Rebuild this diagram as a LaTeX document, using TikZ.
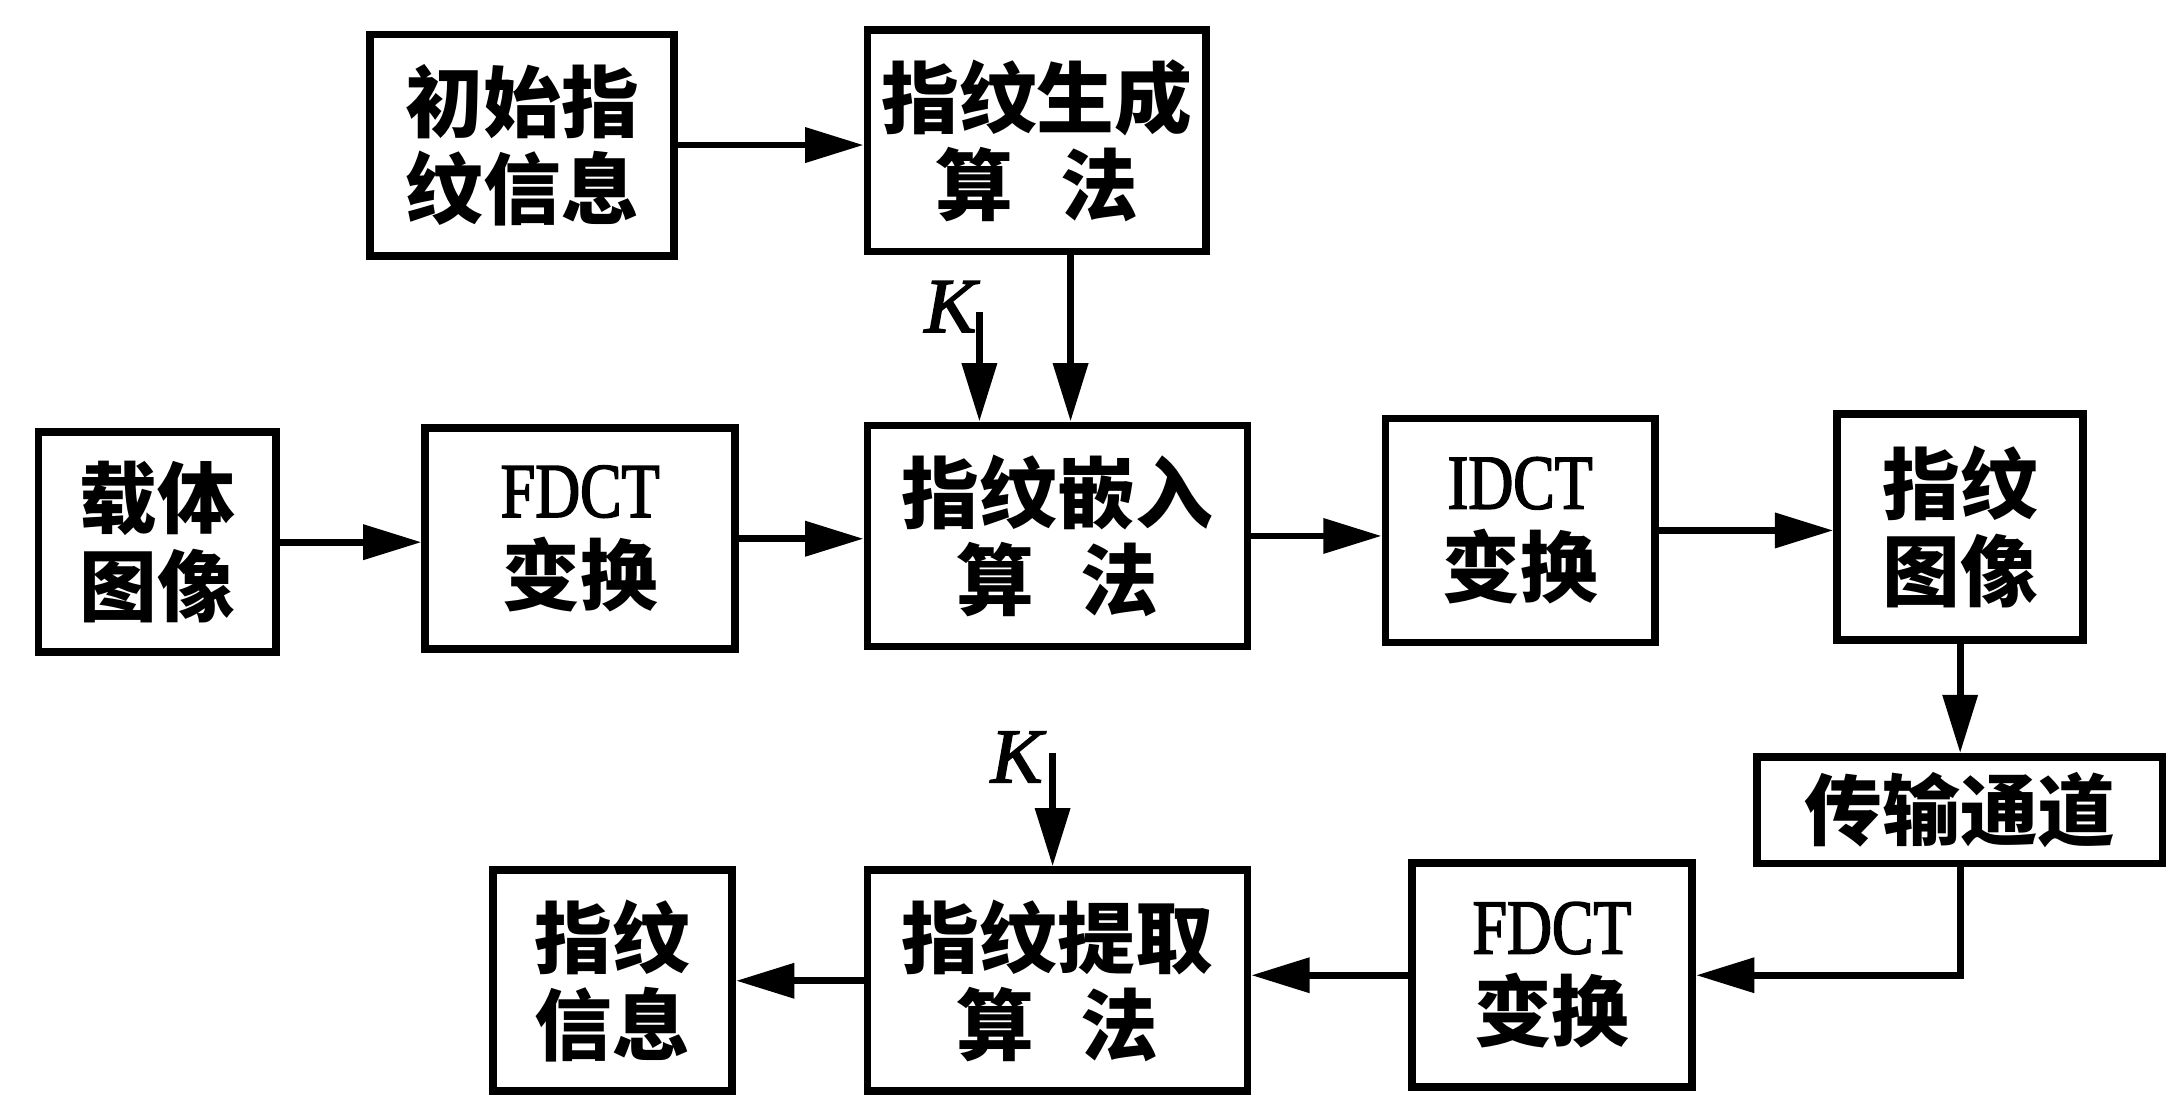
\documentclass[tikz,border=0pt]{standalone}
\usepackage{fontspec}
\usepackage{tikz}
\usetikzlibrary{arrows.meta,positioning}
\newfontfamily\cjk{Noto Sans CJK SC}
\newfontfamily\fdctfont{Liberation Serif}[FakeStretch=0.8, FakeBold=2]
\newfontfamily\keyfont{Liberation Serif}[FakeBold=2]

\tikzset{
  blk/.style={draw, line width=1.6pt, inner sep=0pt, align=center,
    font=\cjk\bfseries\fontsize{16}{18}\selectfont},
  arr/.style={line width=1.4pt, -{Triangle[length=12pt,width=7pt]}},
  klbl/.style={font=\keyfont\itshape\fontsize{16}{18}\selectfont, inner sep=0pt}
}

\begin{document}
\begin{tikzpicture}[x=0.01cm,y=-0.01cm]
\useasboundingbox (0,0) rectangle (1568,794);
% embedding
\node[blk, minimum width=2.20cm, minimum height=1.60cm] (init) at (378,105) {初始指\\纹信息};
\node[blk, minimum width=2.45cm, minimum height=1.60cm] (gen) at (750.5,102) {指纹生成\\算\hspace{0.6em}法};
\node[blk, minimum width=1.72cm, minimum height=1.59cm] (carrier) at (114,392.5) {载体\\图像};
\node[blk, minimum width=2.24cm, minimum height=1.60cm] (fdcta) at (420,390) {{\fdctfont\mdseries FDCT}\\变换};
\node[blk, minimum width=2.75cm, minimum height=1.60cm] (embed) at (765.5,388) {指纹嵌入\\算\hspace{0.6em}法};
\node[blk, minimum width=1.95cm, minimum height=1.62cm] (idct) at (1100.5,384) {{\fdctfont\mdseries IDCT}\\变换};
\node[blk, minimum width=1.78cm, minimum height=1.63cm] (fimg) at (1419,381.5) {指纹\\图像};
% extraction
\node[blk, minimum width=2.94cm, minimum height=0.77cm] (chan) at (1419,586.5) {传输通道};
\node[blk, minimum width=2.03cm, minimum height=1.62cm] (fdctb) at (1123.5,706) {{\fdctfont\mdseries FDCT}\\变换};
\node[blk, minimum width=2.75cm, minimum height=1.60cm] (extract) at (765.5,710) {指纹提取\\算\hspace{0.6em}法};
\node[blk, minimum width=1.73cm, minimum height=1.60cm] (info) at (443.5,710) {指纹\\信息};
% keys
\coordinate (ka) at (709,226);
\node[klbl] (kalbl) at (688,222) {K};
\coordinate (kb) at (762,545);
\node[klbl] (kblbl) at (736,548) {K};

\draw[arr] (init.east) -- (init.east -| gen.west);
\draw[arr] ([xshift=0.245cm]gen.south) -- ([xshift=0.245cm]gen.south |- embed.north);
\draw[arr] (ka) -- (ka |- embed.north);
\draw[arr] (carrier.east) -- (carrier.east -| fdcta.west);
\draw[arr] (fdcta.east) -- (fdcta.east -| embed.west);
\draw[arr] (embed.east) -- (embed.east -| idct.west);
\draw[arr] (idct.east) -- (idct.east -| fimg.west);
\draw[arr] (fimg.south) -- (chan.north);
\draw[arr] (chan.south) |- (fdctb.east);
\draw[arr] (fdctb.west) -- (fdctb.west -| extract.east);
\draw[arr] (kb) -- (kb |- extract.north);
\draw[arr] (extract.west) -- (extract.west -| info.east);
\end{tikzpicture}
\end{document}
